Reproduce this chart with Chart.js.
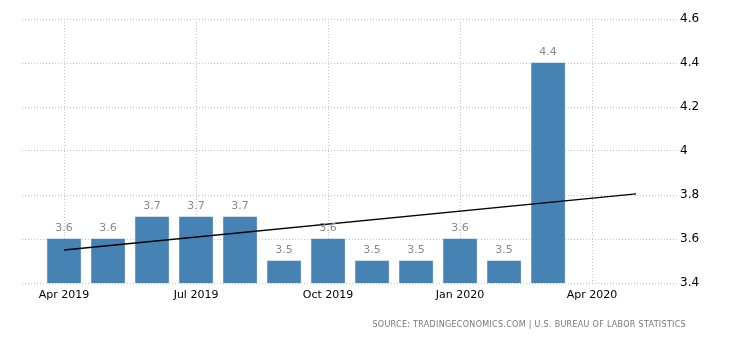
<!DOCTYPE html>
<html>
<head>
<meta charset="utf-8">
<script src="https://cdn.jsdelivr.net/npm/chart.js@4"></script>
<style>
  body { margin: 0; background: #fff; }
  #wrap { position: relative; width: 730px; height: 340px; }
  #source { position: absolute; right: 44px; top: 320px; font: 8px "DejaVu Sans", sans-serif; color: #777; letter-spacing: 0.3px; white-space: nowrap; }
</style>
</head>
<body>
<div id="wrap">
  <canvas id="unemployment" width="730" height="340"></canvas>
  <div id="source">SOURCE: TRADINGECONOMICS.COM | U.S. BUREAU OF LABOR STATISTICS</div>
</div>
<script>
// monthly unemployment rate, Apr 2019 .. Mar 2020
var months = ["Apr 2019", "May 2019", "Jun 2019", "Jul 2019", "Aug 2019", "Sep 2019",
              "Oct 2019", "Nov 2019", "Dec 2019", "Jan 2020", "Feb 2020", "Mar 2020"];
var rates = [3.6, 3.6, 3.7, 3.7, 3.7, 3.5, 3.6, 3.5, 3.5, 3.6, 3.5, 4.4];
// trend line endpoints (month index, value)
var trendX = [0, 13];
var trendY = [3.55, 3.805];
// x axis tick labels at month index
var xTickPos = [0, 3, 6, 9, 12];
var xTickLabels = ["Apr 2019", "Jul 2019", "Oct 2019", "Jan 2020", "Apr 2020"];

var fontFamily = "DejaVu Sans, sans-serif";

var barLabels = {
    id: "barLabels",
    afterDatasetsDraw: function (chart) {
        var ctx = chart.ctx;
        var meta = chart.getDatasetMeta(1);
        ctx.save();
        ctx.font = "11px " + fontFamily;
        ctx.fillStyle = "#8a8a8a";
        ctx.textAlign = "center";
        ctx.textBaseline = "alphabetic";
        meta.data.forEach(function (bar, i) {
            ctx.fillText(rates[i].toFixed(1), bar.x, bar.y - 8);
        });
        ctx.restore();
    }
};

var canvasElement = document.getElementById("unemployment");
var config = {
    type: "bar",
    data: {
        datasets: [
            {
                type: "line",
                data: trendX.map(function (x, i) { return { x: x, y: trendY[i] }; }),
                borderColor: "#000",
                borderWidth: 1.3,
                pointRadius: 0,
                order: 0
            },
            {
                data: rates.map(function (v, i) { return { x: i, y: v }; }),
                backgroundColor: "rgb(70,130,180)",
                barThickness: 33,
                order: 1
            }
        ]
    },
    options: {
        responsive: false,
        animation: false,
        layout: { padding: { left: 22, top: 19, right: 0, bottom: 0 } },
        plugins: { legend: { display: false }, tooltip: { enabled: false } },
        scales: {
            x: {
                type: "linear",
                offset: false,
                min: -0.955,
                max: 13.93,
                afterBuildTicks: function (axis) {
                    axis.ticks = xTickPos.map(function (v) { return { value: v }; });
                },
                afterFit: function (axis) { axis.height = 57; },
                grid: { color: "#c4c4c4", drawTicks: false, offset: false },
                border: { display: false, dash: [1, 2] },
                ticks: {
                    padding: 6,
                    color: "#000",
                    font: { family: fontFamily, size: 11 },
                    maxRotation: 0,
                    callback: function (v) {
                        var k = xTickPos.indexOf(v);
                        return k < 0 ? "" : xTickLabels[k];
                    }
                }
            },
            y: {
                position: "right",
                min: 3.4,
                max: 4.6,
                afterFit: function (axis) { axis.width = 53; },
                grid: { color: "#c4c4c4", drawTicks: false },
                border: { display: false, dash: [1, 2] },
                ticks: {
                    stepSize: 0.2,
                    padding: 3,
                    color: "#000",
                    font: { family: fontFamily, size: 12 },
                    callback: function (v) { return String(+v.toFixed(1)); }
                }
            }
        }
    },
    plugins: [barLabels]
};
var unemploymentChart = new Chart(canvasElement, config);
</script>
</body>
</html>
